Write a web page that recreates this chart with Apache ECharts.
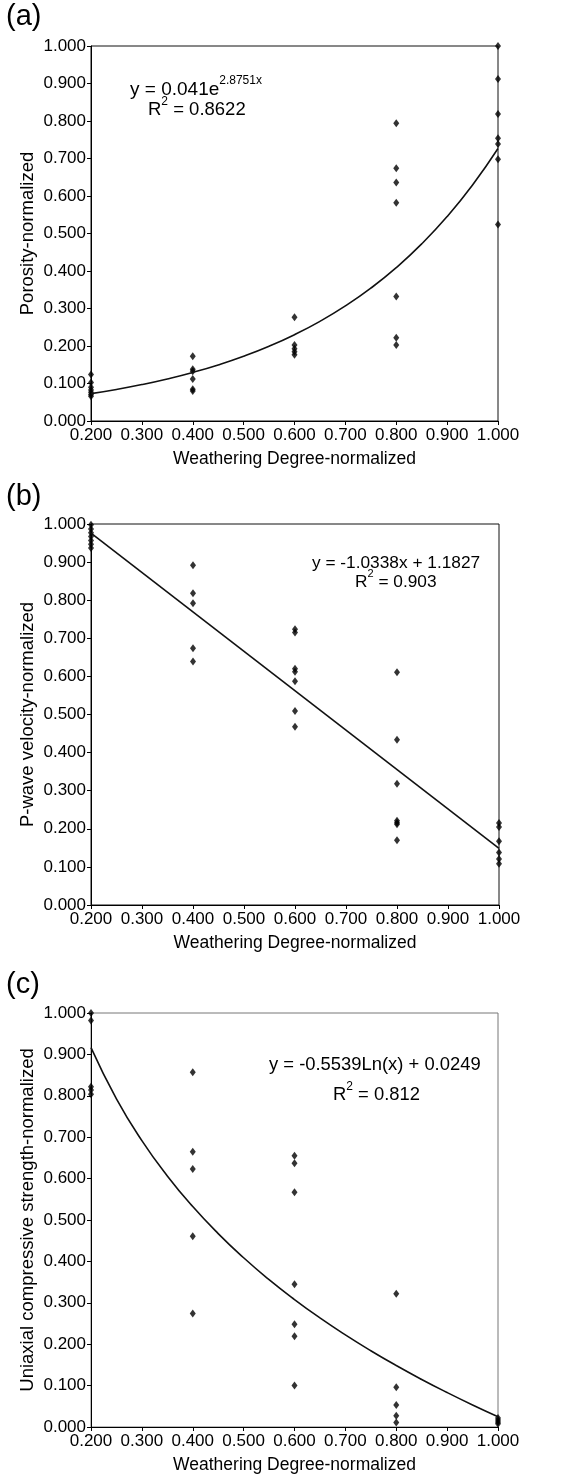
<!DOCTYPE html>
<html>
<head>
<meta charset="utf-8">
<script src="https://cdn.jsdelivr.net/npm/echarts@6/dist/echarts.min.js"></script>
<style>
  html, body { margin: 0; padding: 0; background: #fff; }
  #main { width: 571px; height: 1477px; }
</style>
</head>
<body>
<div id="main"></div>
<script>
// weathering degree groups (x)
var degree = [0.2, 0.4, 0.6, 0.8, 1.0];

// measured points, one list per degree group
var porosity = [
  [0.124, 0.103, 0.090, 0.083, 0.077, 0.071, 0.066],
  [0.173, 0.138, 0.133, 0.112, 0.085, 0.080],
  [0.277, 0.203, 0.193, 0.185, 0.177],
  [0.794, 0.674, 0.636, 0.582, 0.332, 0.222, 0.203],
  [1.000, 0.912, 0.819, 0.754, 0.739, 0.698, 0.524]
];
var pwave = [
  [0.998, 0.987, 0.977, 0.967, 0.957, 0.947, 0.937],
  [0.892, 0.818, 0.792, 0.674, 0.639],
  [0.724, 0.715, 0.620, 0.612, 0.587, 0.509, 0.468],
  [0.611, 0.434, 0.318, 0.221, 0.216, 0.212, 0.170],
  [0.215, 0.205, 0.167, 0.138, 0.121, 0.108]
];
var ucs = [
  [1.000, 0.982, 0.822, 0.814, 0.804],
  [0.857, 0.665, 0.623, 0.461, 0.274],
  [0.655, 0.637, 0.567, 0.345, 0.248, 0.219, 0.100],
  [0.322, 0.096, 0.053, 0.027, 0.011],
  [0.022, 0.017, 0.012, 0.008]
];

// trend lines as drawn
var trendX = [0.20, 0.25, 0.30, 0.35, 0.40, 0.45, 0.50, 0.55, 0.60, 0.65, 0.70, 0.75, 0.80, 0.85, 0.90, 0.95, 1.00];
var trendA = [0.0729, 0.0841, 0.0971, 0.1122, 0.1295, 0.1495, 0.1726, 0.1993, 0.2301, 0.2657, 0.3068, 0.3542, 0.4090, 0.4722, 0.5452, 0.6295, 0.7268];
var trendBX = [0.2, 1.0];
var trendB = [0.9759, 0.1489];
var trendC = [0.9164, 0.7928, 0.6918, 0.6064, 0.5324, 0.4672, 0.4088, 0.3560, 0.3079, 0.2635, 0.2225, 0.1843, 0.1485, 0.1149, 0.0833, 0.0533, 0.0249];

var yNames = ["Porosity-normalized", "P-wave velocity-normalized", "Uniaxial compressive strength-normalized"];
var xName = "Weathering Degree-normalized";

var FONT = "Liberation Sans, Arial, sans-serif";

function pairs(xs, ys) {
  var out = [];
  for (var i = 0; i < xs.length; i++) out.push([xs[i], ys[i]]);
  return out;
}
function groupPoints(groups) {
  var out = [];
  for (var i = 0; i < degree.length; i++) {
    for (var j = 0; j < groups[i].length; j++) out.push([degree[i], groups[i][j]]);
  }
  return out;
}

var grids = [
  { left: 91, top: 46, width: 407, height: 375, show: true, borderColor: "#111", borderWidth: 1, backgroundColor: "#fff" },
  { left: 91, top: 524, width: 408, height: 381, show: true, borderColor: "#111", borderWidth: 1, backgroundColor: "#fff" },
  { left: 91, top: 1013, width: 407, height: 414, show: true, borderColor: "#777", borderWidth: 1, backgroundColor: "#fff" }
];

var xAxes = [], yAxes = [];
for (var g = 0; g < 3; g++) {
  xAxes.push({
    gridIndex: g, type: "value", min: 0.2, max: 1.0, interval: 0.1,
    name: xName, nameLocation: "middle", nameGap: 29,
    nameTextStyle: { fontFamily: FONT, fontSize: 17.5, color: "#000" },
    axisLine: { lineStyle: { color: "#000", width: 1 } },
    axisTick: { show: true, length: 4, lineStyle: { color: "#000" } },
    axisLabel: { fontFamily: FONT, fontSize: 17, color: "#000", margin: 6,
      formatter: function (v) { return v.toFixed(3); } },
    splitLine: { show: false }
  });
  yAxes.push({
    gridIndex: g, type: "value", min: 0, max: 1.0, interval: 0.1,
    name: yNames[g], nameLocation: "middle", nameGap: 54, nameMoveOverlap: false,
    nameTextStyle: { fontFamily: FONT, fontSize: 18.5, color: "#000" },
    axisLine: { show: true, lineStyle: { color: "#000", width: 1 } },
    axisTick: { show: true, length: 4, lineStyle: { color: "#000" } },
    axisLabel: { fontFamily: FONT, fontSize: 17, color: "#000", margin: 5,
      formatter: function (v) { return v.toFixed(3); } },
    splitLine: { show: false }
  });
}

function scatter(idx, data) {
  return {
    type: "scatter", xAxisIndex: idx, yAxisIndex: idx, data: data,
    symbol: "diamond", symbolSize: [6, 8], clip: false,
    itemStyle: { color: "#000" }
  };
}
function trend(idx, data) {
  return {
    type: "line", xAxisIndex: idx, yAxisIndex: idx, data: data,
    smooth: true, showSymbol: false, clip: false,
    lineStyle: { color: "#111", width: 1.6 }
  };
}

function eqRich(size) {
  return {
    m: { fontFamily: FONT, fontSize: size, color: "#000", lineHeight: size + 5, verticalAlign: "bottom" },
    s: { fontFamily: FONT, fontSize: Math.round(size * 0.65), color: "#000", lineHeight: 11, verticalAlign: "top" }
  };
}
function eq(x, y, size, text) {
  return { type: "text", left: x, top: y, z: 10,
    style: { text: text, rich: eqRich(size) } };
}
function panelLabel(x, y, text) {
  return { type: "text", left: x, top: y, z: 10,
    style: { text: text, font: "29px " + FONT, fill: "#000" } };
}

var option = {
  backgroundColor: "#fff",
  animation: false,
  grid: grids,
  xAxis: xAxes,
  yAxis: yAxes,
  series: [
    scatter(0, groupPoints(porosity)),
    trend(0, pairs(trendX, trendA)),
    scatter(1, groupPoints(pwave)),
    trend(1, pairs(trendBX, trendB)),
    scatter(2, groupPoints(ucs)),
    trend(2, pairs(trendX, trendC))
  ],
  graphic: [
    panelLabel(6, 2, "(a)"),
    panelLabel(6, 482, "(b)"),
    panelLabel(6, 970, "(c)"),
    eq(130, 75, 19, "{m|y = 0.041e}{s|2.8751x}"),
    eq(148, 96, 18.5, "{m|R}{s|2}{m| = 0.8622}"),
    eq(312, 555, 17.3, "{m|y = -1.0338x + 1.1827}"),
    eq(355, 568, 17.3, "{m|R}{s|2}{m| = 0.903}"),
    eq(269, 1056, 18.4, "{m|y = -0.5539Ln(x) + 0.0249}"),
    eq(333, 1081, 18.4, "{m|R}{s|2}{m| = 0.812}")
  ]
};

var myChart = echarts.init(document.getElementById("main"));
myChart.setOption(option);
</script>
</body>
</html>
